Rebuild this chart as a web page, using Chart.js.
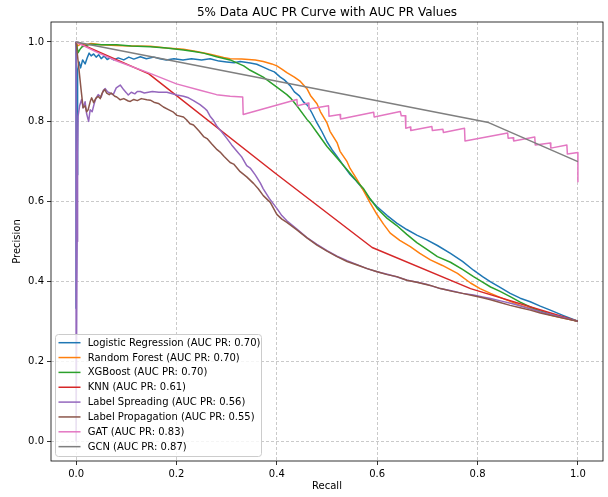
<!DOCTYPE html>
<html><head><meta charset="utf-8">
<script src="https://cdn.jsdelivr.net/npm/chart.js@4.4.0/dist/chart.umd.min.js"></script>
<style>html,body{margin:0;padding:0;background:#fff;} canvas{display:block;}</style>
</head><body>
<canvas id="c" width="608" height="497"></canvas>
<script>
const titleText = '5% Data AUC PR Curve with AUC PR Values';
const xAxisTitle = 'Recall';
const yAxisTitle = 'Precision';
const seriesLabels = ['Logistic Regression','Random Forest','XGBoost','KNN','Label Spreading','Label Propagation','GAT','GCN'];
const aucValues = [0.70, 0.70, 0.70, 0.61, 0.56, 0.55, 0.83, 0.87];
const seriesColors = ['#1f77b4','#ff7f0e','#2ca02c','#d62728','#9467bd','#8c564b','#e377c2','#7f7f7f'];
const xTicks = [0, 0.2, 0.4, 0.6, 0.8, 1.0];
const yTicks = [0, 0.2, 0.4, 0.6, 0.8, 1.0];

const lrRecall = [0,0,0.002,0.003,0.006,0.009,0.013,0.018,0.022,0.026,0.03,0.035,0.04,0.045,0.05,0.056,0.062,0.068,0.075,0.084,0.095,0.105,0.115,0.128,0.14,0.155,0.167,0.18,0.195,0.213,0.23,0.25,0.267,0.285,0.3,0.315,0.327,0.347,0.36,0.373,0.385,0.395,0.407,0.415,0.427,0.435,0.445,0.453,0.462,0.47,0.48,0.49,0.5,0.51,0.52,0.533,0.546,0.556,0.566,0.573,0.586,0.6,0.62,0.639,0.659,0.679,0.699,0.72,0.746,0.77,0.792,0.81,0.826,0.845,0.865,0.885,0.905,0.925,0.945,0.97,1.0];
const lrPrecision = [1.0,0.333,0.667,0.93,0.95,0.935,0.955,0.945,0.96,0.972,0.965,0.97,0.962,0.968,0.958,0.965,0.956,0.96,0.955,0.96,0.955,0.962,0.957,0.963,0.958,0.962,0.958,0.955,0.958,0.955,0.958,0.955,0.958,0.952,0.95,0.948,0.951,0.947,0.944,0.937,0.93,0.925,0.912,0.905,0.89,0.875,0.865,0.85,0.84,0.822,0.797,0.775,0.75,0.73,0.713,0.69,0.668,0.655,0.64,0.629,0.605,0.587,0.565,0.546,0.53,0.516,0.504,0.49,0.47,0.45,0.428,0.412,0.399,0.385,0.37,0.358,0.349,0.338,0.328,0.315,0.30];

const rfRecall = [0,0.003,0.01,0.02,0.03,0.05,0.08,0.11,0.148,0.18,0.214,0.24,0.267,0.294,0.307,0.33,0.357,0.373,0.39,0.4,0.41,0.42,0.435,0.447,0.46,0.467,0.48,0.487,0.5,0.506,0.52,0.526,0.54,0.546,0.56,0.573,0.586,0.6,0.613,0.626,0.645,0.666,0.685,0.706,0.73,0.76,0.786,0.805,0.826,0.845,0.865,0.885,0.905,0.925,0.945,0.97,1.0];
const rfPrecision = [1.0,0.99,0.995,0.993,0.996,0.993,0.991,0.99,0.989,0.985,0.982,0.976,0.969,0.961,0.958,0.957,0.955,0.951,0.945,0.94,0.932,0.923,0.912,0.901,0.883,0.866,0.845,0.825,0.797,0.776,0.748,0.726,0.7,0.683,0.655,0.627,0.597,0.567,0.543,0.521,0.503,0.487,0.47,0.454,0.44,0.42,0.396,0.382,0.37,0.36,0.35,0.34,0.332,0.324,0.316,0.308,0.30];

const xgbRecall = [0,0.004,0.008,0.012,0.016,0.028,0.05,0.081,0.11,0.148,0.18,0.214,0.235,0.254,0.28,0.307,0.334,0.347,0.373,0.4,0.42,0.427,0.44,0.46,0.467,0.48,0.5,0.52,0.546,0.56,0.573,0.586,0.6,0.62,0.639,0.659,0.679,0.699,0.72,0.746,0.77,0.792,0.81,0.826,0.845,0.865,0.885,0.905,0.925,0.945,0.97,1.0];
const xgbPrecision = [1.0,0.973,0.982,0.988,0.99,0.994,0.993,0.993,0.99,0.988,0.985,0.98,0.976,0.972,0.963,0.955,0.94,0.929,0.912,0.887,0.868,0.86,0.84,0.806,0.796,0.773,0.738,0.709,0.671,0.65,0.632,0.607,0.583,0.558,0.54,0.518,0.497,0.48,0.462,0.448,0.43,0.412,0.398,0.386,0.375,0.362,0.348,0.336,0.326,0.318,0.31,0.30];

const knnRecall = [0,0.145,0.397,0.59,0.786,1.0];
const knnPrecision = [1.0,0.92,0.671,0.485,0.382,0.30];

const lsRecall = [0,0,0.002,0.003,0.004,0.007,0.011,0.014,0.018,0.021,0.025,0.028,0.032,0.036,0.04,0.044,0.05,0.054,0.058,0.063,0.068,0.074,0.08,0.088,0.095,0.1,0.104,0.11,0.117,0.122,0.128,0.136,0.144,0.152,0.165,0.181,0.192,0.201,0.214,0.224,0.234,0.247,0.255,0.261,0.267,0.274,0.281,0.29,0.3,0.31,0.32,0.33,0.34,0.347,0.357,0.367,0.373,0.385,0.397,0.4,0.41,0.42,0.44,0.46,0.48,0.5,0.52,0.54,0.56,0.58,0.6,0.62,0.64,0.66,0.68,0.7,0.726,0.75,0.77,0.792,0.81,0.826,0.85,0.87,0.9,0.93,0.96,1.0];
const lsPrecision = [1.0,0.0,0.5,0.72,0.814,0.84,0.856,0.835,0.85,0.82,0.801,0.83,0.825,0.845,0.86,0.868,0.862,0.878,0.883,0.875,0.872,0.868,0.885,0.892,0.88,0.873,0.867,0.874,0.87,0.876,0.876,0.872,0.874,0.876,0.874,0.874,0.87,0.867,0.864,0.86,0.853,0.843,0.835,0.828,0.814,0.803,0.788,0.775,0.759,0.742,0.727,0.712,0.69,0.684,0.667,0.647,0.632,0.608,0.588,0.583,0.565,0.552,0.531,0.51,0.493,0.477,0.463,0.452,0.442,0.432,0.424,0.418,0.411,0.403,0.398,0.392,0.382,0.376,0.37,0.366,0.361,0.357,0.35,0.344,0.333,0.322,0.313,0.30];

const lpRecall = [0,0.005,0.01,0.014,0.018,0.021,0.024,0.028,0.031,0.035,0.039,0.044,0.048,0.052,0.054,0.057,0.061,0.066,0.07,0.077,0.081,0.088,0.095,0.104,0.108,0.115,0.122,0.13,0.141,0.148,0.155,0.164,0.174,0.185,0.194,0.201,0.214,0.22,0.227,0.234,0.245,0.254,0.261,0.27,0.281,0.287,0.295,0.307,0.314,0.327,0.34,0.354,0.363,0.373,0.387,0.4,0.41,0.42,0.44,0.46,0.48,0.5,0.52,0.54,0.56,0.58,0.6,0.62,0.639,0.659,0.679,0.706,0.726,0.75,0.77,0.792,0.81,0.826,0.845,0.865,0.885,0.905,0.925,0.945,0.97,1.0];
const lpPrecision = [1.0,0.94,0.88,0.835,0.84,0.825,0.83,0.85,0.86,0.848,0.858,0.864,0.858,0.872,0.876,0.881,0.872,0.868,0.872,0.864,0.862,0.855,0.858,0.852,0.851,0.856,0.853,0.858,0.855,0.854,0.849,0.846,0.837,0.83,0.824,0.816,0.812,0.805,0.795,0.792,0.777,0.763,0.758,0.745,0.73,0.724,0.713,0.698,0.694,0.675,0.662,0.645,0.632,0.615,0.598,0.568,0.556,0.548,0.529,0.509,0.491,0.476,0.462,0.45,0.441,0.432,0.424,0.417,0.412,0.403,0.398,0.39,0.382,0.375,0.37,0.364,0.359,0.354,0.347,0.34,0.334,0.328,0.321,0.315,0.308,0.30];

const gatRecall = [0,0.04,0.08,0.15,0.2,0.247,0.28,0.307,0.332,0.333,0.44,0.441,0.463,0.464,0.503,0.504,0.526,0.527,0.593,0.594,0.646,0.648,0.656,0.657,0.666,0.667,0.709,0.71,0.731,0.732,0.774,0.775,0.86,0.861,0.871,0.872,0.914,0.915,0.945,0.946,0.978,0.979,1.0,1.0];
const gatPrecision = [1.0,0.975,0.953,0.92,0.895,0.879,0.868,0.864,0.862,0.818,0.856,0.84,0.847,0.832,0.84,0.814,0.818,0.807,0.824,0.812,0.826,0.815,0.815,0.784,0.787,0.778,0.788,0.778,0.781,0.773,0.784,0.752,0.772,0.759,0.76,0.752,0.762,0.742,0.747,0.734,0.742,0.719,0.723,0.65];

const gcnRecall = [0,0.822,1.0];
const gcnPrecision = [1.0,0.798,0.70];

const recallSets = [lrRecall, rfRecall, xgbRecall, knnRecall, lsRecall, lpRecall, gatRecall, gcnRecall];
const precisionSets = [lrPrecision, rfPrecision, xgbPrecision, knnPrecision, lsPrecision, lpPrecision, gatPrecision, gcnPrecision];

const FONT = '"DejaVu Sans", sans-serif';
const legendNames = seriesLabels.map((n, i) => n + ' (AUC PR: ' + aucValues[i].toFixed(2) + ')');

const datasets = seriesLabels.map((name, i) => ({
  label: legendNames[i],
  data: recallSets[i].map((r, k) => ({x: r, y: precisionSets[i][k]})),
  showLine: true,
  borderColor: seriesColors[i],
  backgroundColor: seriesColors[i],
  borderWidth: 1.5,
  pointRadius: 0,
  pointHoverRadius: 0,
  tension: 0,
  fill: false,
  borderJoinStyle: 'round',
  order: seriesLabels.length - i
}));

const decor = {
  id: 'decor',
  afterDraw(chart) {
    const ctx = chart.ctx, a = chart.chartArea;
    ctx.save();
    ctx.setLineDash([]);
    ctx.strokeStyle = '#000';
    ctx.lineWidth = 0.8;
    ctx.strokeRect(a.left, a.top, a.right - a.left, a.bottom - a.top);
    ctx.fillStyle = '#000';
    ctx.textAlign = 'center';
    ctx.textBaseline = 'alphabetic';
    ctx.font = '12px ' + FONT;
    ctx.fillText(titleText, (a.left + a.right) / 2, 16);
    ctx.font = '10px ' + FONT;
    ctx.fillText(xAxisTitle, (a.left + a.right) / 2, 489);
    ctx.save();
    ctx.translate(20, (a.top + a.bottom) / 2);
    ctx.rotate(-Math.PI / 2);
    ctx.fillText(yAxisTitle, 0, 0);
    ctx.restore();

    // legend
    const lx = 55.5, ly = 334.5, lw = 206, lh = 122, r = 3;
    ctx.beginPath();
    ctx.moveTo(lx + r, ly);
    ctx.lineTo(lx + lw - r, ly);
    ctx.arcTo(lx + lw, ly, lx + lw, ly + r, r);
    ctx.lineTo(lx + lw, ly + lh - r);
    ctx.arcTo(lx + lw, ly + lh, lx + lw - r, ly + lh, r);
    ctx.lineTo(lx + r, ly + lh);
    ctx.arcTo(lx, ly + lh, lx, ly + lh - r, r);
    ctx.lineTo(lx, ly + r);
    ctx.arcTo(lx, ly, lx + r, ly, r);
    ctx.closePath();
    ctx.fillStyle = 'rgba(255,255,255,0.8)';
    ctx.fill();
    ctx.strokeStyle = '#cccccc';
    ctx.lineWidth = 1;
    ctx.stroke();
    ctx.textAlign = 'left';
    ctx.textBaseline = 'middle';
    ctx.font = '10px ' + FONT;
    legendNames.forEach((name, i) => {
      const y = 342.7 + i * 14.85;
      ctx.strokeStyle = seriesColors[i];
      ctx.lineWidth = 1.5;
      ctx.beginPath();
      ctx.moveTo(58.5, y);
      ctx.lineTo(80.5, y);
      ctx.stroke();
      ctx.fillStyle = '#000';
      ctx.fillText(name, 87.7, y + 0.5);
    });
    ctx.restore();
  }
};

const axisCommon = (ticks) => ({
  type: 'linear',
  min: -0.05,
  max: 1.05,
  afterBuildTicks: (scale) => { scale.ticks = ticks.map(v => ({value: v})); },
  ticks: {
    callback: (v) => Number(v).toFixed(1),
    color: '#000',
    font: {family: FONT, size: 10},
    padding: 3,
    maxRotation: 0,
    autoSkip: false
  },
  grid: {
    color: 'rgba(176,176,176,0.85)',
    lineWidth: 0.8,
    drawTicks: true,
    tickLength: 4,
    tickColor: '#000',
    tickWidth: 0.8,
    tickBorderDash: [1, 0]
  },
  border: {display: false, dash: [3, 2]}
});

const xOpts = axisCommon(xTicks);
xOpts.afterFit = (s) => { s.height = 36; };
const yOpts = axisCommon(yTicks);
yOpts.afterFit = (s) => { s.width = 51; };

new Chart(document.getElementById('c').getContext('2d'), {
  type: 'scatter',
  data: {datasets},
  options: {
    responsive: false,
    animation: false,
    devicePixelRatio: 1,
    layout: {padding: {top: 22, right: 5, left: 0, bottom: 0}},
    plugins: {legend: {display: false}, title: {display: false}, tooltip: {enabled: false}},
    scales: {x: xOpts, y: yOpts}
  },
  plugins: [decor]
});
</script>
</body></html>
